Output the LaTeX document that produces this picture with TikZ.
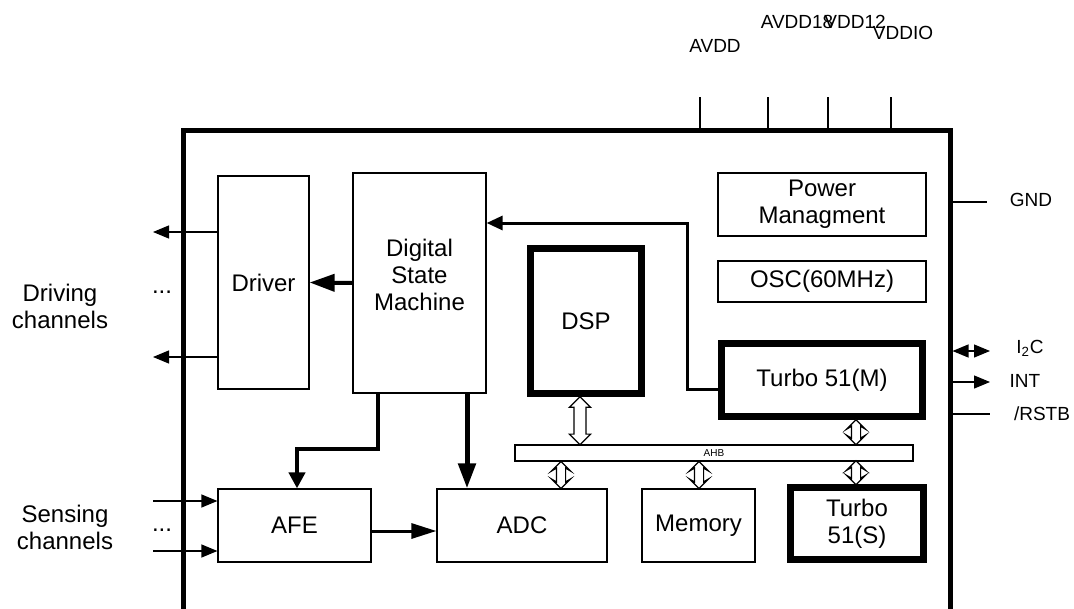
\documentclass[tikz,border=0pt]{standalone}
\usepackage{fontspec}
\setmainfont{Liberation Sans}
\usetikzlibrary{positioning,arrows.meta,shapes.arrows,calc}

\begin{document}
\begin{tikzpicture}[x=0.5pt,y=-0.5pt,
			every node/.style={
				align=center,
				font=\fontsize{12}{13.5}\selectfont},
			blk/.style={draw, line width=0.6pt, inner sep=0pt},
			thickblk/.style={blk, line width=3.5pt},
			pinlbl/.style={inner sep=0pt, font=\fontsize{9.5}{11}\selectfont},
			pinline/.style={line width=0.6pt},
			small/.style={pinline, -{Triangle[length=8pt,width=6.5pt]}},
			bus/.style={double arrow, draw, line width=0.6pt, rotate=90,
				inner xsep=0pt, fill=white}]
			
			\useasboundingbox (0,0) rectangle (1074,609);
			
			% chip outline, open at the bottom of the page
			\node[draw, line width=2.5pt, minimum width=383.5pt, minimum height=284.5pt] (chip) at (566.5,415.5) {};
			
			\node[blk, minimum width=45.5pt, minimum height=106.5pt] (driver) at (263.5,282.5) {Driver};
			\node[blk, minimum width=66.5pt, minimum height=110pt] (dsm) at (419.5,283) {Digital\\State\\Machine\\[-5.5pt]\mbox{}};
			\node[thickblk, minimum width=55.5pt, minimum height=72.5pt] (dsp) at (586,321) {DSP};
			\node[blk, minimum width=104pt, minimum height=31.5pt] (pm) at (822,204.5) {Power\\Managment};
			\node[blk, minimum width=104pt, minimum height=20.5pt] (osc) at (822,281.5) {OSC(60MHz)};
			\node[thickblk, minimum width=100.5pt, minimum height=36.5pt] (t51m) at (822,380) {Turbo 51(M)};
			\node[blk, minimum width=199pt, minimum height=8pt, font=\fontsize{5}{6}\selectfont] (ahb) at (714,453) {AHB};
			\node[blk, minimum width=76.5pt, minimum height=36.5pt] (afe) at (294.5,525.5) {AFE};
			\node[blk, minimum width=85pt, minimum height=36.5pt] (adc) at (522,525.5) {ADC};
			\node[blk, minimum width=56.5pt, minimum height=36.5pt] (mem) at (698.5,525.5) {Memory};
			\node[thickblk, minimum width=66.5pt, minimum height=36pt] (t51s) at (857,523.5) {Turbo\\51(S)};
			
			% channel labels
			\node (drvlbl) at (60,306) {Driving\\channels};
			\node (senlbl) at (65,527) {Sensing\\channels};
			\node[inner sep=0pt] (drvdots) at (162,292) {...};
			\node[inner sep=0pt] (sendots) at (162,530) {...};
			
			% supply pins
			\node[pinlbl] (lavdd) at (715,46) {AVDD};
			\node[pinlbl] (lavdd18) at (797,22) {AVDD18};
			\node[pinlbl] (lvdd12) at (855,22) {VDD12};
			\node[pinlbl] (lvddio) at (903,33) {VDDIO};
			\coordinate (pavdd) at (700,97);
			\coordinate (pavdd18) at (768,97);
			\coordinate (pvdd12) at (828,97);
			\coordinate (pvddio) at (891,97);
			\foreach \p in {pavdd,pavdd18,pvdd12,pvddio}
				\draw[pinline] (chip.north -| \p) -- (\p);
			
			% right side pins
			\node[pinlbl] (lgnd) at (1031,200) {GND};
			\node[pinlbl] (li2c) at (1030,348) {I\textsubscript{2}C};
			\node[pinlbl] (lint) at (1025,381) {INT};
			\node[pinlbl] (lrst) at (1042,414) {/RSTB};
			\coordinate (pgnd) at (987,202);
			\coordinate (pi2c) at (990,351);
			\coordinate (pint) at (990,382);
			\coordinate (prst) at (990,414);
			\draw[pinline] (chip.east |- pgnd) -- (pgnd);
			\draw[pinline,{Triangle[length=8pt,width=6.5pt]}-{Triangle[length=8pt,width=6.5pt]}] (chip.east |- pi2c) -- (pi2c);
			\draw[small] (chip.east |- pint) -- (pint);
			\draw[pinline] (chip.east |- prst) -- (prst);
			
			% driving and sensing channels
			\coordinate (drv1) at (153,232);
			\coordinate (drv2) at (153,357);
			\coordinate (sen1) at (153,501);
			\coordinate (sen2) at (153,551);
			\draw[small] (driver.west |- drv1) -- (drv1);
			\draw[small] (driver.west |- drv2) -- (drv2);
			\draw[small] (sen1) -- (afe.west |- sen1);
			\draw[small] (sen2) -- (afe.west |- sen2);
			
			% control and data paths
			\draw[line width=2pt,-{Triangle[length=12.5pt,width=8.5pt]}] (dsm.west) -- (driver.east);
			
			\coordinate (ctlbend) at (687,223);
			\draw[line width=1.5pt,-{Triangle[length=8pt,width=7pt]}] ([yshift=-4.5pt]t51m.west) -| (ctlbend) -- (dsm.east |- ctlbend);
			
			\coordinate (afetap) at (378,449);
			\coordinate (afedrop) at (297,449);
			\draw[line width=2pt,-{Triangle[length=8pt,width=8pt]}] (dsm.south -| afetap) -- (afetap) -- (afedrop) -- (afe.north -| afedrop);
			
			\coordinate (adctap) at (467,449);
			\draw[line width=2.5pt,-{Triangle[length=12.5pt,width=8.5pt]}] (dsm.south -| adctap) -- (adc.north -| adctap);
			
			\coordinate (sig) at (400,531);
			\draw[line width=1.5pt,-{Triangle[length=12.5pt,width=7.5pt]}] (afe.east |- sig) -- (adc.west |- sig);
			
			% AHB bus links
			\coordinate (busdsp) at (580,0);
			\coordinate (busadc) at (561,0);
			\coordinate (busmem) at (699,0);
			\coordinate (bust51) at (856,0);
			\node[bus, minimum height=24pt, inner ysep=2.7pt, double arrow head extend=2.3pt] (dspbus) at ($(dsp.south -| busdsp)!0.5!(ahb.north -| busdsp)$) {};
			\node[bus, minimum height=12.5pt, inner ysep=2pt, double arrow head extend=2.5pt, double arrow head indent=1.5pt] (t51mbus) at ($(t51m.south -| bust51)!0.5!(ahb.north -| bust51)$) {};
			\node[bus, minimum height=13.5pt, inner ysep=2pt, double arrow head extend=2.5pt, double arrow head indent=1.5pt] (adcbus) at ($(ahb.south -| busadc)!0.5!(adc.north -| busadc)$) {};
			\node[bus, minimum height=13.5pt, inner ysep=2pt, double arrow head extend=2.5pt, double arrow head indent=1.5pt] (membus) at ($(ahb.south -| busmem)!0.5!(mem.north -| busmem)$) {};
			\node[bus, minimum height=12pt, inner ysep=2pt, double arrow head extend=2.5pt, double arrow head indent=1.5pt] (t51sbus) at ($(ahb.south -| bust51)!0.5!(t51s.north -| bust51)$) {};
			
		\end{tikzpicture}
\end{document}
